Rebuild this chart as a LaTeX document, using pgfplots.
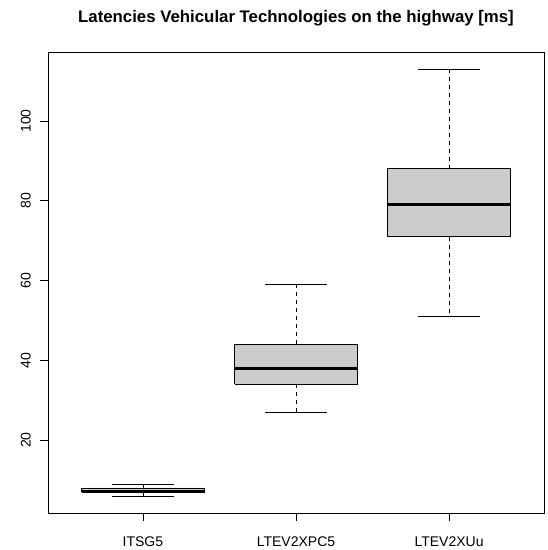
\documentclass[border=0pt]{standalone}
\usepackage{fontspec}
\setmainfont{Liberation Sans}
\usepackage{pgfplots}
\pgfplotsset{compat=1.18}
\definecolor{boxgray}{RGB}{204,204,204}
\begin{document}
\begin{tikzpicture}
\useasboundingbox (0pt,0pt) rectangle (548pt,550pt);
\begin{axis}[
  at={(48pt,37pt)}, anchor=south west,
  scale only axis, width=496pt, height=461pt,
  xmin=0.38, xmax=3.62, ymin=1.72, ymax=117.28,
  axis line style={black, line width=0.75pt},
  xtick={1,2,3}, xticklabels={ITSG5,LTEV2XPC5,LTEV2XUu},
  ytick={20,40,60,80,100},
  tick align=outside, major tick length=8pt,
  tick style={black, line width=0.75pt},
  xtick pos=bottom, ytick pos=left,
  /pgf/number format/assume math mode=true,
  tick label style={font=\fontsize{14}{16}\selectfont},
  yticklabel style={rotate=90, anchor=south, inner sep=0pt, yshift=9pt},
  xticklabel style={anchor=north, inner sep=0pt, yshift=-16pt},
  title={\textbf{Latencies Vehicular Technologies on the highway [ms]}},
  title style={font=\fontsize{16.8}{19}\selectfont, at={(0.5,1)}, anchor=south, yshift=20pt, inner sep=0pt},
  whisk/.style={black, line width=0.75pt, dash pattern=on 4pt off 4pt},
  cap/.style={black, line width=0.75pt},
  bx/.style={fill=boxgray, draw=black, line width=0.75pt},
  med/.style={black, line width=2.5pt},
]
% ITSG5: whiskers 6, 9; quartiles 6.9, 8; median 7.1
\addplot[whisk] coordinates {(1,8) (1,9)};
\addplot[whisk] coordinates {(1,6.9) (1,6)};
\addplot[cap] coordinates {(0.8,9) (1.2,9)};
\addplot[cap] coordinates {(0.8,6) (1.2,6)};
\addplot[bx] coordinates {(0.6,6.9) (1.4,6.9) (1.4,8) (0.6,8) (0.6,6.9)};
\addplot[med] coordinates {(0.6,7.1) (1.4,7.1)};
% LTEV2XPC5: whiskers 27, 59; quartiles 34, 44; median 38
\addplot[whisk] coordinates {(2,44) (2,59)};
\addplot[whisk] coordinates {(2,34) (2,27)};
\addplot[cap] coordinates {(1.8,59) (2.2,59)};
\addplot[cap] coordinates {(1.8,27) (2.2,27)};
\addplot[bx] coordinates {(1.6,34) (2.4,34) (2.4,44) (1.6,44) (1.6,34)};
\addplot[med] coordinates {(1.6,38) (2.4,38)};
% LTEV2XUu: whiskers 51, 113; quartiles 71, 88; median 79
\addplot[whisk] coordinates {(3,88) (3,113)};
\addplot[whisk] coordinates {(3,71) (3,51)};
\addplot[cap] coordinates {(2.8,113) (3.2,113)};
\addplot[cap] coordinates {(2.8,51) (3.2,51)};
\addplot[bx] coordinates {(2.6,71) (3.4,71) (3.4,88) (2.6,88) (2.6,71)};
\addplot[med] coordinates {(2.6,79) (3.4,79)};
\end{axis}
\end{tikzpicture}
\end{document}
